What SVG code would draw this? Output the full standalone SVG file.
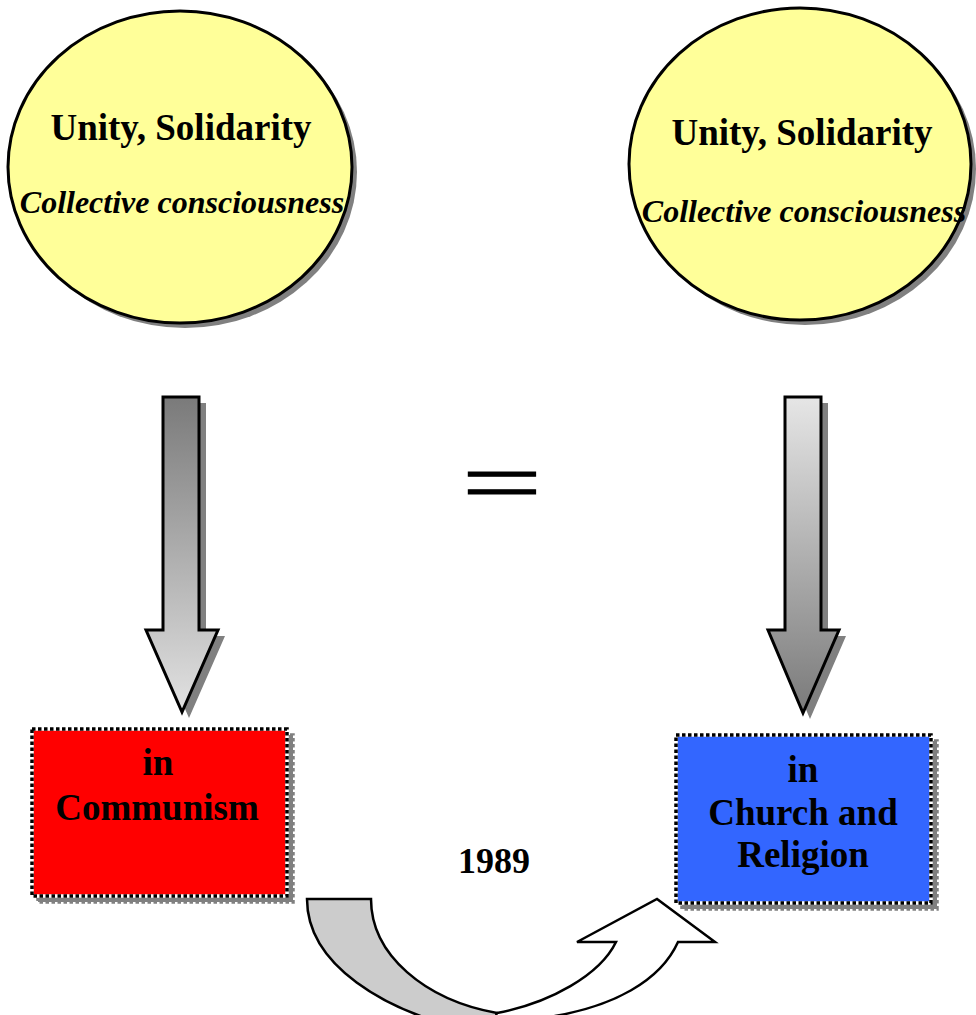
<svg xmlns="http://www.w3.org/2000/svg" width="976" height="1015" viewBox="0 0 976 1015">
<style>
.t{font-family:"Liberation Serif","Times New Roman",serif;font-weight:bold;fill:#000;text-anchor:middle}
.big{font-size:37px}
.it{font-size:32px;font-style:italic}
.sh{fill:#808080}
.ell{fill:#FFFF99;stroke:#000;stroke-width:3}
.boxw{stroke:#ffffff;stroke-width:3.5}
.box{fill:none;stroke:#000;stroke-width:3.5;stroke-dasharray:3.5 2.5}
.boxsh{fill:#808080;stroke:#808080;stroke-width:3.5;stroke-dasharray:3.5 2.5}
.arr{stroke:#000;stroke-width:3;stroke-linejoin:miter}
</style>
<defs>
<linearGradient id="gL" gradientUnits="userSpaceOnUse" x1="0" y1="397" x2="0" y2="712">
<stop offset="0" stop-color="#7a7a7a"/><stop offset="1" stop-color="#e2e2e2"/>
</linearGradient>
<linearGradient id="gR" gradientUnits="userSpaceOnUse" x1="0" y1="397" x2="0" y2="713">
<stop offset="0" stop-color="#e6e6e6"/><stop offset="1" stop-color="#7a7a7a"/>
</linearGradient>
</defs>

<g id="circle-left">
<ellipse class="sh" cx="185" cy="172" rx="172" ry="156"/>
<ellipse class="ell" cx="180" cy="167" rx="172" ry="156"/>
<text class="t big" x="181" y="140">Unity, Solidarity</text>
<text class="t it" x="182" y="213">Collective consciousness</text>
</g>

<g id="circle-right">
<ellipse class="sh" cx="805" cy="169" rx="171" ry="156"/>
<ellipse class="ell" cx="800" cy="164" rx="171" ry="156"/>
<text class="t big" x="802" y="145">Unity, Solidarity</text>
<text class="t it" x="804" y="222">Collective consciousness</text>
</g>

<g id="connectors">
<g id="arrow-left">
<polygon class="sh" points="170,403 206,403 206,636 225,636 189,718 153,636 170,636"/>
<polygon class="arr" fill="url(#gL)" points="163,397 199,397 199,630 218,630 182,712 146,630 163,630"/>
</g>
<g id="arrow-right">
<polygon class="sh" points="792,403 828,403 828,636 846,636 810,719 775,636 792,636"/>
<polygon class="arr" fill="url(#gR)" points="785,397 821,397 821,630 839,630 803,713 768,630 785,630"/>
</g>
<g id="curved-arrow">
<path d="M307,899 L371,899 C371,955 425,1000 497,1013 C515,1017 530,1022 540,1030 L470,1030 C385,1012 307,965 307,899 Z" fill="#cccccc" stroke="#000" stroke-width="2.5" stroke-linejoin="miter"/>
<path d="M497,1013 C550,1003 600,975 616,942 L577,942 L657,899 L715,942 L678,942 C660,982 612,1006 555,1016 L520,1030 L490,1030 Z" fill="#ffffff" stroke="#000" stroke-width="2.5" stroke-linejoin="miter"/>
</g>
</g>

<g id="equals">
<text transform="translate(502,512) scale(1.06,0.645)" x="0" y="0" style="font-family:'Liberation Serif','Times New Roman',serif;font-size:136px;text-anchor:middle;fill:#000;stroke:#000;stroke-width:1.2">=</text>
</g>

<g id="box-communism">
<rect class="boxsh" x="38" y="735" width="255" height="167"/>
<rect class="boxw" fill="#FF0000" x="32" y="729" width="255" height="167"/>
<rect class="box" x="32" y="729" width="255" height="167"/>
<text class="t big" x="158" y="775">in</text>
<text class="t big" x="157" y="820">Communism</text>
</g>

<g id="box-church">
<rect class="boxsh" x="682" y="741" width="255" height="168"/>
<rect class="boxw" fill="#3366FF" x="676" y="735" width="255" height="168"/>
<rect class="box" x="676" y="735" width="255" height="168"/>
<text class="t big" x="803" y="782">in</text>
<text class="t big" x="803" y="825">Church and</text>
<text class="t big" x="803" y="867">Religion</text>
</g>

<g id="year">
<text class="t" x="494" y="873" style="font-size:36px">1989</text>
</g>
</svg>
